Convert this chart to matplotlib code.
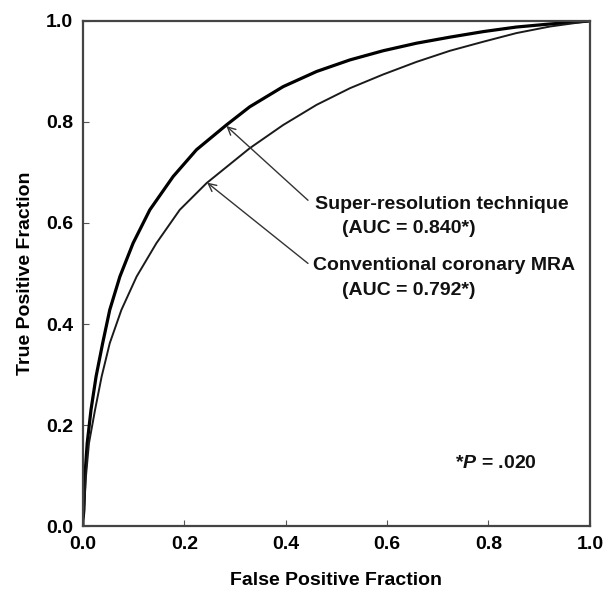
import matplotlib
matplotlib.use("Agg")
import matplotlib.pyplot as plt

plt.rcParams['font.family'] = ['Liberation Sans', 'DejaVu Sans']
plt.rcParams['mathtext.fontset'] = 'custom'
plt.rcParams['mathtext.it'] = 'Liberation Sans:bold:italic'
plt.rcParams['mathtext.rm'] = 'Liberation Sans:bold'

# Super-resolution technique (bold curve)
sr_fpf = [0.0, 0.0, 0.002, 0.004, 0.0085, 0.016, 0.026, 0.039, 0.053, 0.073,
          0.099, 0.132, 0.178, 0.224, 0.283, 0.329, 0.395, 0.461, 0.527,
          0.592, 0.658, 0.724, 0.790, 0.855, 0.921, 1.0]
sr_tpf = [0.0, 0.01, 0.032, 0.098, 0.164, 0.230, 0.296, 0.362, 0.428, 0.494,
          0.560, 0.626, 0.692, 0.745, 0.794, 0.830, 0.870, 0.900, 0.923,
          0.941, 0.956, 0.968, 0.979, 0.988, 0.994, 1.0]

# Conventional coronary MRA (thin curve)
cv_fpf = [0.0, 0.0, 0.002, 0.006, 0.012, 0.024, 0.037, 0.053, 0.076, 0.106,
          0.145, 0.191, 0.244, 0.329, 0.395, 0.461, 0.527, 0.592, 0.658,
          0.724, 0.790, 0.855, 0.921, 1.0]
cv_tpf = [0.0, 0.01, 0.032, 0.098, 0.164, 0.230, 0.296, 0.362, 0.428, 0.494,
          0.560, 0.626, 0.679, 0.748, 0.794, 0.834, 0.867, 0.894, 0.919,
          0.941, 0.959, 0.976, 0.989, 1.0]

ticks = [0.0, 0.2, 0.4, 0.6, 0.8, 1.0]
tick_labels = ["0.0", "0.2", "0.4", "0.6", "0.8", "1.0"]

fig = plt.figure(figsize=(6.05, 5.96), dpi=100)
ax = fig.add_axes([0.137, 0.1174, 0.838, 0.8474])

ax.plot(sr_fpf, sr_tpf, color='black', lw=2.3, solid_joinstyle='round',
        solid_capstyle='round')
ax.plot(cv_fpf, cv_tpf, color='#1a1a1a', lw=1.4, solid_joinstyle='round',
        solid_capstyle='round')

ax.set_xlim(0, 1)
ax.set_ylim(0, 1)
ax.set_xticks(ticks)
ax.set_yticks(ticks)
ax.set_xticklabels(tick_labels, fontsize=14, fontweight='bold')
ax.set_yticklabels(tick_labels, fontsize=14, fontweight='bold')
ax.tick_params(direction='in', length=4, width=0.8, color='#555555', pad=7)
for s in ax.spines.values():
    s.set_linewidth(1.6)
    s.set_color('#444444')

ax.set_xlabel("False Positive Fraction", fontsize=14, fontweight='bold', labelpad=14)
ax.set_ylabel("True Positive Fraction", fontsize=14, fontweight='bold', labelpad=9)

arrow_kw = dict(arrowstyle='->', color='#333333', lw=1.0, mutation_scale=14,
                shrinkA=0, shrinkB=0)
ax.annotate("", xy=(0.283, 0.792), xytext=(0.444, 0.645), arrowprops=arrow_kw)
ax.annotate("", xy=(0.245, 0.680), xytext=(0.444, 0.520), arrowprops=arrow_kw)

ax.text(0.457, 0.636, "Super-resolution technique", fontsize=14, fontweight='bold',
        va='center', ha='left', color='#111111')
ax.text(0.511, 0.590, "(AUC = 0.840*)", fontsize=14, fontweight='bold',
        va='center', ha='left', color='#111111')
ax.text(0.453, 0.515, "Conventional coronary MRA", fontsize=14, fontweight='bold',
        va='center', ha='left', color='#111111')
ax.text(0.511, 0.467, "(AUC = 0.792*)", fontsize=14, fontweight='bold',
        va='center', ha='left', color='#111111')
ax.text(0.734, 0.123, r"*$P$ = .020", fontsize=14, fontweight='bold',
        va='center', ha='left', color='#111111')

fig.savefig("out.png", dpi=100)
